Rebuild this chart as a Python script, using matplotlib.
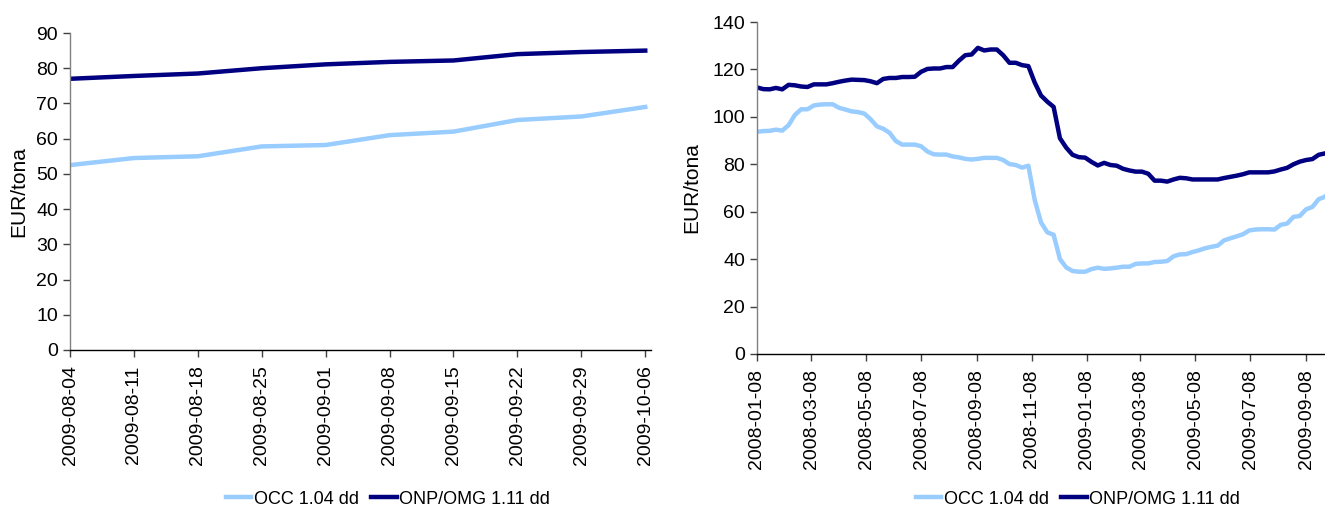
import datetime as dt
import matplotlib
matplotlib.use("Agg")
import matplotlib.pyplot as plt
from matplotlib.lines import Line2D

# Weekly prices (EUR/tona), first reading 2008-01-08, one value per Tuesday
start_date = dt.date(2008, 1, 8)
occ_weekly = [
    93.7, 94.0, 94.1, 94.6, 94.2, 96.5, 100.8, 103.2, 103.2, 104.8,
    105.2, 105.3, 105.3, 103.8, 103.1, 102.3, 102.0, 101.4, 99.0, 96.0,
    95.0, 93.3, 89.8, 88.3, 88.3, 88.3, 87.6, 85.4, 84.2, 84.1,
    84.1, 83.3, 82.9, 82.3, 82.0, 82.3, 82.7, 82.7, 82.7, 81.8,
    80.1, 79.7, 78.6, 79.4, 65.0, 55.5, 51.3, 50.3, 40.0, 36.5,
    35.0, 34.7, 34.7, 35.8, 36.4, 35.9, 36.1, 36.4, 36.8, 36.8,
    38.0, 38.2, 38.2, 38.8, 38.9, 39.2, 41.2, 42.0, 42.1, 43.0,
    43.7, 44.6, 45.2, 45.7, 47.9, 48.8, 49.6, 50.5, 52.1, 52.5,
    52.6, 52.6, 52.5, 54.5, 55.0, 57.8, 58.2, 61.0, 62.0, 65.3,
    66.3, 69.0,
]
onp_weekly = [
    112.4, 111.7, 111.6, 112.2, 111.6, 113.5, 113.3, 112.8, 112.6, 113.7,
    113.7, 113.7, 114.2, 114.8, 115.3, 115.7, 115.6, 115.5, 115.0, 114.2,
    116.0, 116.4, 116.4, 116.8, 116.8, 116.9, 119.0, 120.2, 120.4, 120.4,
    121.0, 121.0, 123.7, 126.0, 126.3, 129.1, 128.0, 128.4, 128.4, 126.0,
    122.8, 122.8, 121.8, 121.4, 114.5, 109.0, 106.4, 104.2, 91.0, 87.0,
    84.0, 83.0, 82.8, 81.0, 79.5, 80.6, 79.7, 79.4, 78.1, 77.4,
    76.9, 76.9, 76.0, 73.1, 73.1, 72.7, 73.6, 74.3, 74.1, 73.6,
    73.6, 73.6, 73.6, 73.6, 74.2, 74.7, 75.2, 75.8, 76.6, 76.6,
    76.6, 76.6, 77.0, 77.8, 78.5, 80.0, 81.1, 81.8, 82.2, 84.0,
    84.6, 85.0,
]
weekly_dates = [start_date + dt.timedelta(weeks=i) for i in range(len(occ_weekly))]

# Recent ten weeks shown on their own
recent_n = 10
recent_labels = [d.strftime("%Y-%m-%d") for d in weekly_dates[-recent_n:]]
occ_recent = occ_weekly[-recent_n:]
onp_recent = onp_weekly[-recent_n:]

series_names = ["OCC 1.04 dd", "ONP/OMG 1.11 dd"]
light_blue = "#99CCFF"
navy = "#000080"

font = ["Liberation Sans", "DejaVu Sans"]

fig = plt.figure(figsize=(13.25, 5.11), dpi=100)

W, H = 1325.0, 511.0


def frame(ax, labelpad):
    ax.spines["top"].set_visible(False)
    ax.spines["right"].set_visible(False)
    ax.spines["left"].set_color("#808080")
    ax.spines["bottom"].set_color("#000000")
    ax.spines["left"].set_linewidth(1.0)
    ax.spines["bottom"].set_linewidth(1.0)
    ax.tick_params(axis="both", direction="out", length=5, width=1.0, color="#404040")
    ax.tick_params(axis="x", pad=6)
    for lab in ax.get_yticklabels():
        lab.set_family(font)
        lab.set_fontsize(14)
    for lab in ax.get_xticklabels():
        lab.set_family(font)
        lab.set_fontsize(14)
        lab.set_rotation(90)
    ax.set_ylabel("EUR/tona", family=font, fontsize=15, labelpad=labelpad)


# Left panel: last ten weeks on a category axis
ax1 = fig.add_axes([70 / W, 1 - 350 / H, (651 - 70) / W, (350 - 33) / H])
xpos = list(range(recent_n))
ax1.plot(xpos, occ_recent, color=light_blue, lw=3.2)
ax1.plot(xpos, onp_recent, color=navy, lw=3.2)
ax1.set_xlim(0, recent_n - 1 + 0.09)
ax1.set_ylim(0, 90)
ax1.set_yticks(range(0, 91, 10))
ax1.set_xticks(xpos)
ax1.set_xticklabels(recent_labels)
frame(ax1, 6)

# Right panel: full weekly history on a date axis
ax2 = fig.add_axes([757 / W, 1 - 354 / H, (1325 - 757) / W, (354 - 22) / H])
ax2.plot(weekly_dates, occ_weekly, color=light_blue, lw=3.2)
ax2.plot(weekly_dates, onp_weekly, color=navy, lw=3.2)
ax2.set_xlim(dt.date(2008, 1, 8), dt.date(2009, 9, 29))
ax2.set_ylim(0, 140)
ax2.set_yticks(range(0, 141, 20))
tick_dates = [dt.date(2008 + (m - 1) // 12, (m - 1) % 12 + 1, 8) for m in range(1, 22, 2)]
ax2.set_xticks(tick_dates)
ax2.set_xticklabels([d.strftime("%Y-%m-%d") for d in tick_dates])
frame(ax2, 8)

handles = [Line2D([], [], color=light_blue, lw=3.2), Line2D([], [], color=navy, lw=3.2)]
for cx in (388 / W, 1078 / W):
    fig.legend(handles, series_names, loc="center", bbox_to_anchor=(cx, 1 - 499 / H),
               ncol=2, frameon=False, handlelength=1.4, handletextpad=0.15,
               columnspacing=0.7, prop={"family": font, "size": 13})

fig.savefig("out.png", dpi=100)
